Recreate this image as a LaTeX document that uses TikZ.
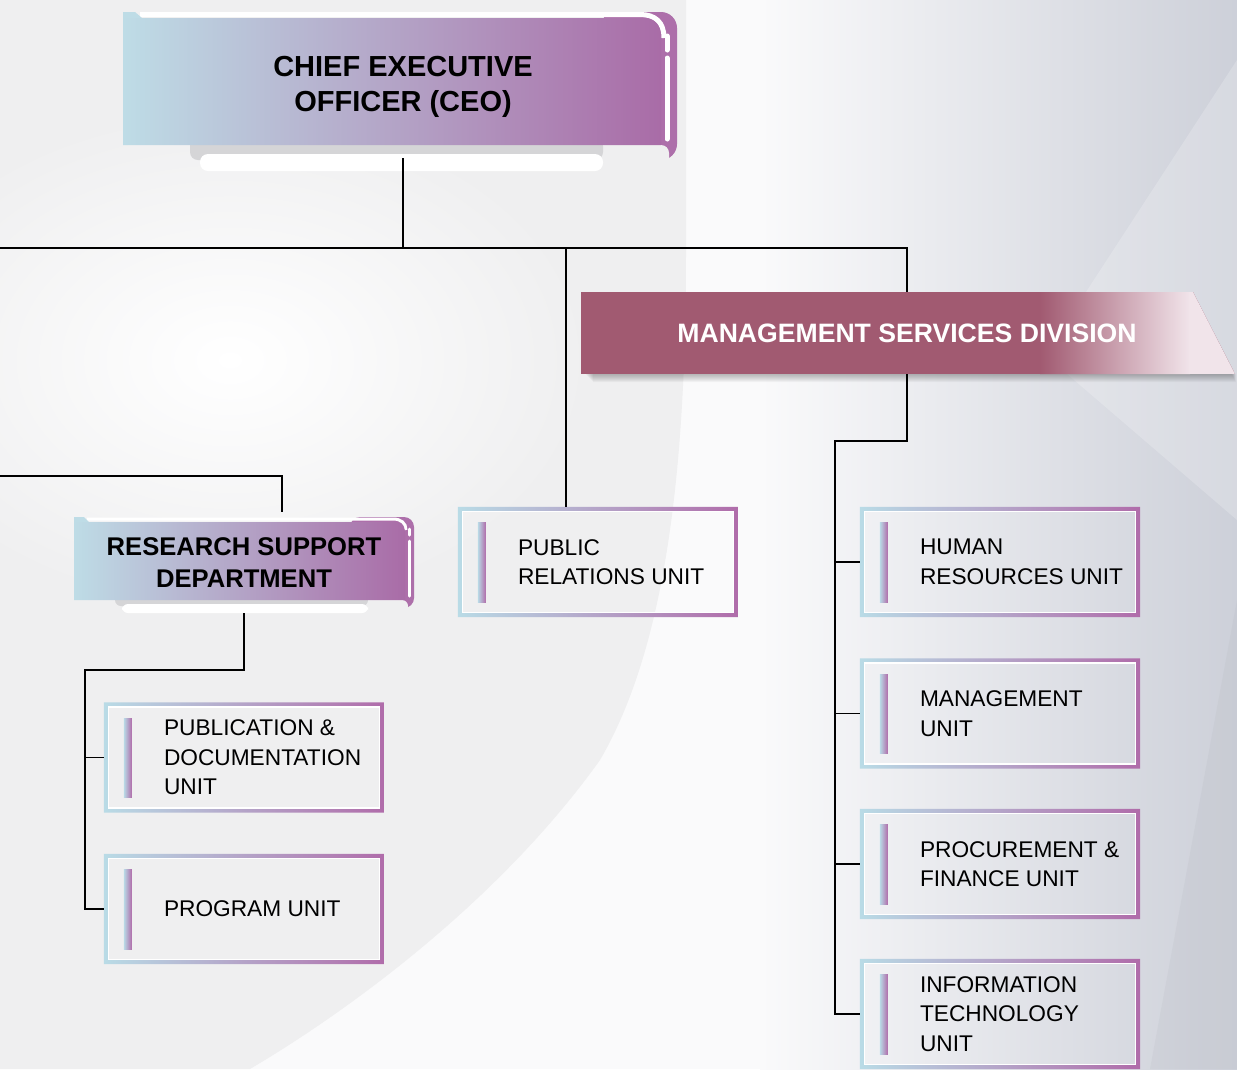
\documentclass[tikz,border=0pt]{standalone}
\usepackage{fontspec}
\setmainfont{Liberation Sans}
\usetikzlibrary{calc}
\usetikzlibrary{positioning}

\definecolor{bgGray}{HTML}{EFEFF0}
\definecolor{bgWhite}{HTML}{FAFAFB}
\definecolor{bgSteel}{HTML}{CDD0D9}
\definecolor{headBlue}{HTML}{BEDCE6}
\definecolor{headPurple}{HTML}{A96CA7}
\definecolor{framePurple}{HTML}{AD6FAA}
\definecolor{tabGray}{HTML}{D5D5D7}
\definecolor{msdRed}{HTML}{A15A71}
\definecolor{msdPale}{HTML}{F1E4EA}
\definecolor{unitBlue}{HTML}{B9DBE6}
\definecolor{unitPurple}{HTML}{B06CAA}

\tikzset{
  link/.style={line width=1.5pt, black},
  unitbox/.style={minimum width=280pt, minimum height=110pt, inner sep=0pt},
  unittext/.style={align=left, inner sep=0pt, text=black,
    font=\fontsize{22.7}{29.5}\selectfont},
  headtext/.style={align=center, inner sep=0pt,
    font=\bfseries\fontsize{29}{35}\selectfont},
}

\begin{document}
\begin{tikzpicture}[x=1pt, y=-1pt]
    \useasboundingbox (0,0) rectangle (1237,1069);
    \clip (0,0) rectangle (1237,1069);

    % Background
    \fill[bgWhite] (0,0) rectangle (1237,1069);
    \shade[left color=bgWhite, right color=bgSteel] (760,0) rectangle (1237,1069);
    \fill[white, opacity=0.2] (1237,60) -- (1045,355) -- (1237,520) -- cycle;
    \fill[bgSteel!85!black, opacity=0.15] (1237,600) -- (1150,1069) -- (1237,1069) -- cycle;
    \fill[bgGray] (0,0) -- (686,0) -- (686,250)
        .. controls (686,450) and (670,640) .. (600,760)
        .. controls (500,900) and (350,1010) .. (250,1069) -- (0,1069) -- cycle;
    \shade[inner color=white, outer color=bgGray] (230,360) ellipse [x radius=360, y radius=250];

    % Connectors
    \coordinate (busL) at (0,248);
    \coordinate (busR) at (907,248);
    \coordinate (busRSD) at (0,476);
    \coordinate (rsdSpine) at (85,670);
    \coordinate (msdSpine) at (835,441);

    % Draw CEO box
    \fill[framePurple, rounded corners=16pt] (600,12) rectangle (677,160);
    \fill[bgGray, rounded corners=8pt] (590,145) rectangle (669,172);
    \fill[tabGray, rounded corners=8pt] (190,138) rectangle (603,160);
    \fill[white, rounded corners=8pt] (200,154) rectangle (603,171);
    \draw[white, line width=5pt] (140,14.5) -- (640,14.5) .. controls (655,14.5) and (664,22) .. (664,38);
    \shade[left color=headBlue, right color=headPurple] (123,18) -- (643,18)
        .. controls (655,18) and (661,25) .. (661,38) -- (661,145) -- (123,145) -- cycle;
    \fill[headBlue] (123,12) -- (135,12) -- (142,18) -- (123,18) -- cycle;
    \draw[white, line width=5pt, line cap=round] (667,36) -- (667,50) (667,58) -- (667,139);
    \node[headtext, minimum height=142pt] (ceo) at (403,87) {CHIEF EXECUTIVE\\OFFICER (CEO)};

    % Draw research support box
    \fill[framePurple, rounded corners=10pt] (350,517) rectangle (414,608);
    \fill[bgGray, rounded corners=6pt] (340,600) rectangle (408,616);
    \fill[tabGray, rounded corners=6pt] (115,592) rectangle (368,606);
    \fill[white, rounded corners=6pt] (122,604) rectangle (368,613);
    \draw[white, line width=3pt] (87,519) -- (393,519) .. controls (401,519) and (406,523) .. (406,530);
    \shade[left color=headBlue, right color=headPurple] (74,522) -- (395,522)
        .. controls (401,522) and (405,526) .. (405,532) -- (405,600) -- (74,600) -- cycle;
    \fill[headBlue] (74,517) -- (84,517) -- (89,522) -- (74,522) -- cycle;
    \draw[white, line width=3pt, line cap=round] (409.5,529) -- (409.5,535) (409.5,541) -- (409.5,596);
    \node[headtext, font=\bfseries\fontsize{25.6}{32}\selectfont, minimum height=101pt] (rsd) at (244,562.5)
        {RESEARCH SUPPORT\\DEPARTMENT};

    % Draw management services banner
    \foreach \s in {1,...,8}
      \fill[black, opacity=0.035] (585+\s,296+\s) -- (1195,296+\s) -- (1236,374+\s) -- (585+\s,374+\s) -- cycle;
    \begin{scope}
      \clip (581,292) -- (1193,292) -- (1235,374) -- (581,374) -- cycle;
      \fill[msdRed] (581,292) rectangle (1235,374);
      \shade[left color=msdRed, right color=msdPale] (1040,292) rectangle (1190,374);
      \fill[msdPale] (1189,292) rectangle (1235,374);
    \end{scope}
    \node[inner sep=0pt, minimum width=654pt, minimum height=82pt, text=white,
        font=\bfseries\fontsize{26.6}{32}\selectfont] (msd) at (907,333) {MANAGEMENT SERVICES DIVISION};

    % Unit frames
    \node[unitbox] (PR) at (598,562) {};
    \node[unitbox] (HR) at (1000,562) {};
    \node[unitbox] (MU) at (1000,713.5) {};
    \node[unitbox] (PF) at (1000,864) {};
    \node[unitbox] (IT) at (1000,1014) {};
    \node[unitbox] (PD) at (244,757.5) {};
    \node[unitbox] (PG) at (244,909) {};

    \foreach \u in {PR,HR,MU,PF,IT,PD,PG} {
      \shade[even odd rule, left color=unitBlue, right color=unitPurple]
        (\u.north west) rectangle (\u.south east)
        ([shift={(4,4)}]\u.north west) rectangle ([shift={(-4,-4)}]\u.south east);
      \draw[white, line width=1.5pt] ([shift={(4.75,4.75)}]\u.north west) rectangle ([shift={(-4.75,-4.75)}]\u.south east);
      \shade[left color=unitBlue, right color=unitPurple]
        ([shift={(20,16)}]\u.north west) rectangle ([shift={(28,-15)}]\u.south west);
    }

    \node[unittext, right=60pt of PR.west] (PRtext) {PUBLIC\\RELATIONS UNIT};
    \node[unittext, right=60pt of HR.west] (HRtext) {HUMAN\\RESOURCES UNIT};
    \node[unittext, right=60pt of MU.west] (MUtext) {MANAGEMENT\\UNIT};
    \node[unittext, right=60pt of PF.west] (PFtext) {PROCUREMENT \&\\FINANCE UNIT};
    \node[unittext, right=60pt of IT.west] (ITtext) {INFORMATION\\TECHNOLOGY\\UNIT};
    \node[unittext, right=60pt of PD.west] (PDtext) {PUBLICATION \&\\DOCUMENTATION\\UNIT};
    \node[unittext, right=60pt of PG.west] (PGtext) {PROGRAM UNIT};

    % Draw connector lines
    \draw[link] (ceo.south) -- (ceo.south |- busL);
    \draw[link] (busL) -- (busR) -- (busR |- msd.north);
    \draw[link] ([xshift=-32pt]PR.north |- busL) -- ([xshift=-32pt]PR.north);
    \draw[link] (busRSD) -| ([xshift=38pt]rsd.north);
    \draw[link] (rsd.south) |- (rsdSpine) -- (rsdSpine |- PG.west) -- (PG.west);
    \draw[link] (rsdSpine |- PD.west) -- (PD.west);
    \draw[link] (busR |- msd.south) |- (msdSpine) -- (msdSpine |- IT.west) -- (IT.west);
    \foreach \u in {HR,MU,PF}
      \draw[link] (msdSpine |- \u.west) -- (\u.west);
\end{tikzpicture}
\end{document}
